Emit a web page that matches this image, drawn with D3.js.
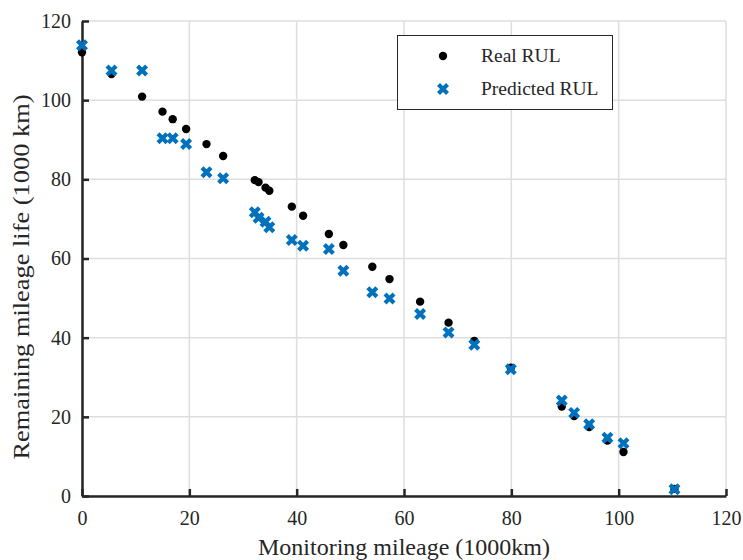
<!DOCTYPE html>
<html><head><meta charset="utf-8">
<script src="https://cdn.jsdelivr.net/npm/d3@7"></script>
<style>body{margin:0;background:#fff}svg{display:block}text{font-family:"Liberation Serif","Times New Roman",serif;fill:#262626}</style>
</head><body>
<script>
const mileage = [0,5.5,11.2,15.0,16.9,19.4,23.2,26.3,32.2,32.9,34.2,34.9,39.1,41.2,46.0,48.7,54.1,57.3,63.0,68.3,73.1,79.9,89.4,91.7,94.5,97.9,100.9,110.4];
const realRUL = [112.1,106.6,100.9,97.1,95.2,92.7,88.9,85.9,79.8,79.3,77.9,77.1,73.1,70.8,66.2,63.4,57.9,54.8,49.1,43.8,39.2,32.4,22.6,20.2,17.4,14.0,11.1,1.8];
const predRUL = [113.9,107.5,107.5,90.4,90.4,88.9,81.8,80.3,71.7,70.3,69.3,67.9,64.7,63.2,62.4,56.9,51.5,49.9,46.0,41.3,38.2,32.0,24.1,21.0,18.1,14.7,13.3,1.7];
const xTicks = [0,20,40,60,80,100,120];
const yTicks = [0,20,40,60,80,100,120];
const seriesNames = ["Real RUL","Predicted RUL"];
const xTitle = "Monitoring mileage (1000km)";
const yTitle = "Remaining mileage life (1000 km)";

const W=743,H=560;
const m={l:82,r:17,t:21,b:64};
const svg=d3.select("body").append("svg").attr("width",W).attr("height",H);
const x=d3.scaleLinear().domain([0,120]).range([m.l,W-m.r]);
const y=d3.scaleLinear().domain([0,120]).range([H-m.b,m.t]);
const blue="#0072BD";

// grid
svg.append("g").selectAll("line.gx").data(xTicks).join("line")
  .attr("x1",d=>x(d)).attr("x2",d=>x(d)).attr("y1",y(0)).attr("y2",y(120))
  .attr("stroke","#dedede").attr("stroke-width",1.5);
svg.append("g").selectAll("line.gy").data(yTicks).join("line")
  .attr("y1",d=>y(d)).attr("y2",d=>y(d)).attr("x1",x(0)).attr("x2",x(120))
  .attr("stroke","#dedede").attr("stroke-width",1.5);

// axes
const xa=svg.append("g").attr("transform",`translate(0,${y(0)})`)
  .call(d3.axisBottom(x).tickValues(xTicks).tickSizeInner(-7).tickSizeOuter(0).tickPadding(15));
const ya=svg.append("g").attr("transform",`translate(${x(0)},0)`)
  .call(d3.axisLeft(y).tickValues(yTicks).tickSizeInner(-7).tickSizeOuter(0).tickPadding(11));
[xa,ya].forEach(a=>{
  a.attr("font-family",null);
  a.select(".domain").attr("stroke","#262626").attr("stroke-width",2.5);
  a.selectAll(".tick line").attr("stroke","#262626").attr("stroke-width",2.5);
  a.selectAll(".tick text").attr("font-size",20).attr("fill","#262626");
});

svg.append("text").attr("x",(x(0)+x(120))/2).attr("y",555).attr("text-anchor","middle")
  .attr("font-size",24).text(xTitle);
svg.append("text").attr("transform",`translate(29,277) rotate(-90)`).attr("text-anchor","middle")
  .attr("font-size",24).attr("textLength",365).attr("lengthAdjust","spacingAndGlyphs").text(yTitle);

const crossPath=s=>`M${-s},${-s}L${s},${s}M${-s},${s}L${s},${-s}`;
function cross(g,cx,cy){
  g.append("path").attr("transform",`translate(${cx},${cy})`).attr("d",crossPath(4.5))
   .attr("stroke",blue).attr("stroke-width",4.2).attr("fill","none");
}
// real
svg.append("g").selectAll("circle").data(mileage).join("circle")
  .attr("cx",d=>x(d)).attr("cy",(d,i)=>y(realRUL[i])).attr("r",4.2).attr("fill","#000");
// predicted
const pg=svg.append("g");
mileage.forEach((d,i)=>cross(pg,x(d),y(predRUL[i])));

// legend
const lg=svg.append("g");
lg.append("rect").attr("x",397.5).attr("y",35.5).attr("width",215).attr("height",74)
  .attr("fill","#fff").attr("stroke","#262626").attr("stroke-width",1);
lg.append("circle").attr("cx",443).attr("cy",56).attr("r",4.2).attr("fill","#000");
cross(lg,443,89);
lg.append("text").attr("x",481).attr("y",62).attr("font-size",19.5).text(seriesNames[0]);
lg.append("text").attr("x",481).attr("y",95).attr("font-size",19.5).text(seriesNames[1]);
</script>
</body></html>
